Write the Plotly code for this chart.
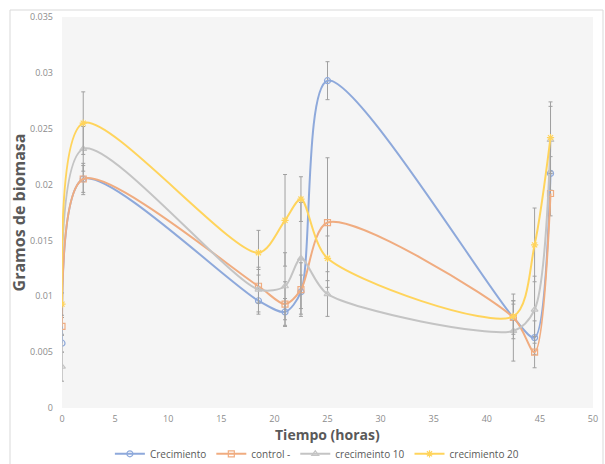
import plotly.graph_objects as go

tiempo = [0, 2, 18.5, 21, 22.5, 25, 42.5, 44.5, 46]

crecimiento = [0.0058, 0.0205, 0.0096, 0.0086, 0.0104, 0.0293, 0.0081, 0.0063, 0.0210]
crecimiento_err = [0.0008, 0.0012, 0.0012, 0.0012, 0.0015, 0.0017, 0.0012, 0.0015, 0.0015]

control = [0.0073, 0.0205, 0.0109, 0.0093, 0.0106, 0.0166, 0.0081, 0.0050, 0.0192]
control_err = [0.0008, 0.0014, 0.0015, 0.0020, 0.0024, 0.0058, 0.0015, 0.0014, 0.0020]

crec10 = [0.0037, 0.0232, 0.0106, 0.0109, 0.0134, 0.0102, 0.0069, 0.0088, 0.0240]
crec10_err = [0.0013, 0.0020, 0.0020, 0.0030, 0.0050, 0.0020, 0.0027, 0.0030, 0.0030]

crec20 = [0.0093, 0.0255, 0.0139, 0.0168, 0.0187, 0.0134, 0.0082, 0.0146, 0.0242]
crec20_err = [0.0010, 0.0028, 0.0020, 0.0041, 0.0020, 0.0020, 0.0020, 0.0033, 0.0032]

series = [
    ("Crecimiento", crecimiento, crecimiento_err, "#8EA9DB", "circle-open"),
    ("control -", control, control_err, "#F0AC80", "square-open"),
    ("crecimeinto 10", crec10, crec10_err, "#C4C4C4", "triangle-up-open"),
    ("crecimiento 20", crec20, crec20_err, "#FFD45C", "asterisk-open"),
]

fig = go.Figure()
for name, vals, errs, color, sym in series:
    fig.add_trace(go.Scatter(
        x=tiempo, y=vals, name=name, mode="lines+markers",
        line=dict(color=color, width=2, shape="spline", smoothing=0.8),
        marker=dict(symbol=sym, size=6, color=color, line=dict(color=color, width=1.2)),
        error_y=dict(type="data", array=errs, visible=True, color="#A0A0A0",
                     thickness=1, width=2),
    ))

fig.update_layout(
    width=605, height=464,
    margin=dict(l=62, r=12, t=17, b=56, autoexpand=False),
    paper_bgcolor="white",
    plot_bgcolor="#F5F5F5",
    font=dict(family="Open Sans, Liberation Sans, sans-serif", color="#595959"),
    showlegend=True,
    legend=dict(orientation="h", x=0.48, xanchor="center", y=-0.08, yanchor="top",
                font=dict(size=10, color="#595959"), itemwidth=30,
                bgcolor="rgba(0,0,0,0)", tracegroupgap=0),
    xaxis=dict(range=[0, 50], dtick=5, tick0=0, showgrid=False, zeroline=False,
               showline=False, ticks="", ticklabelstandoff=4, automargin=False,
               tickfont=dict(size=9, color="#8C8C8C")),
    yaxis=dict(range=[0, 0.035], dtick=0.005, tick0=0, showgrid=False, zeroline=False,
               showline=False, ticks="", ticklabelstandoff=8, automargin=False,
               tickfont=dict(size=9, color="#8C8C8C"),
               title=dict(text="<b>Gramos de biomasa</b>", font=dict(size=16, color="#595959"),
                          standoff=0)),
    annotations=[dict(text="<b>Tiempo (horas)</b>", xref="paper", yref="paper",
                      x=0.5, y=-(434 - 408) / 391, xanchor="center", yanchor="middle",
                      showarrow=False, font=dict(size=14, color="#595959"))],
    shapes=[dict(type="rect", xref="paper", yref="paper",
                 x0=(10 - 62) / 531, x1=(603 - 62) / 531,
                 y0=-(470 - 408) / 391, y1=1 + (17 - 10) / 391,
                 line=dict(color="#D9D9D9", width=1), fillcolor="rgba(0,0,0,0)",
                 layer="below")],
)

fig.write_html("out.html", config={"displayModeBar": False},
               post_script="document.body.style.margin='0px';")
